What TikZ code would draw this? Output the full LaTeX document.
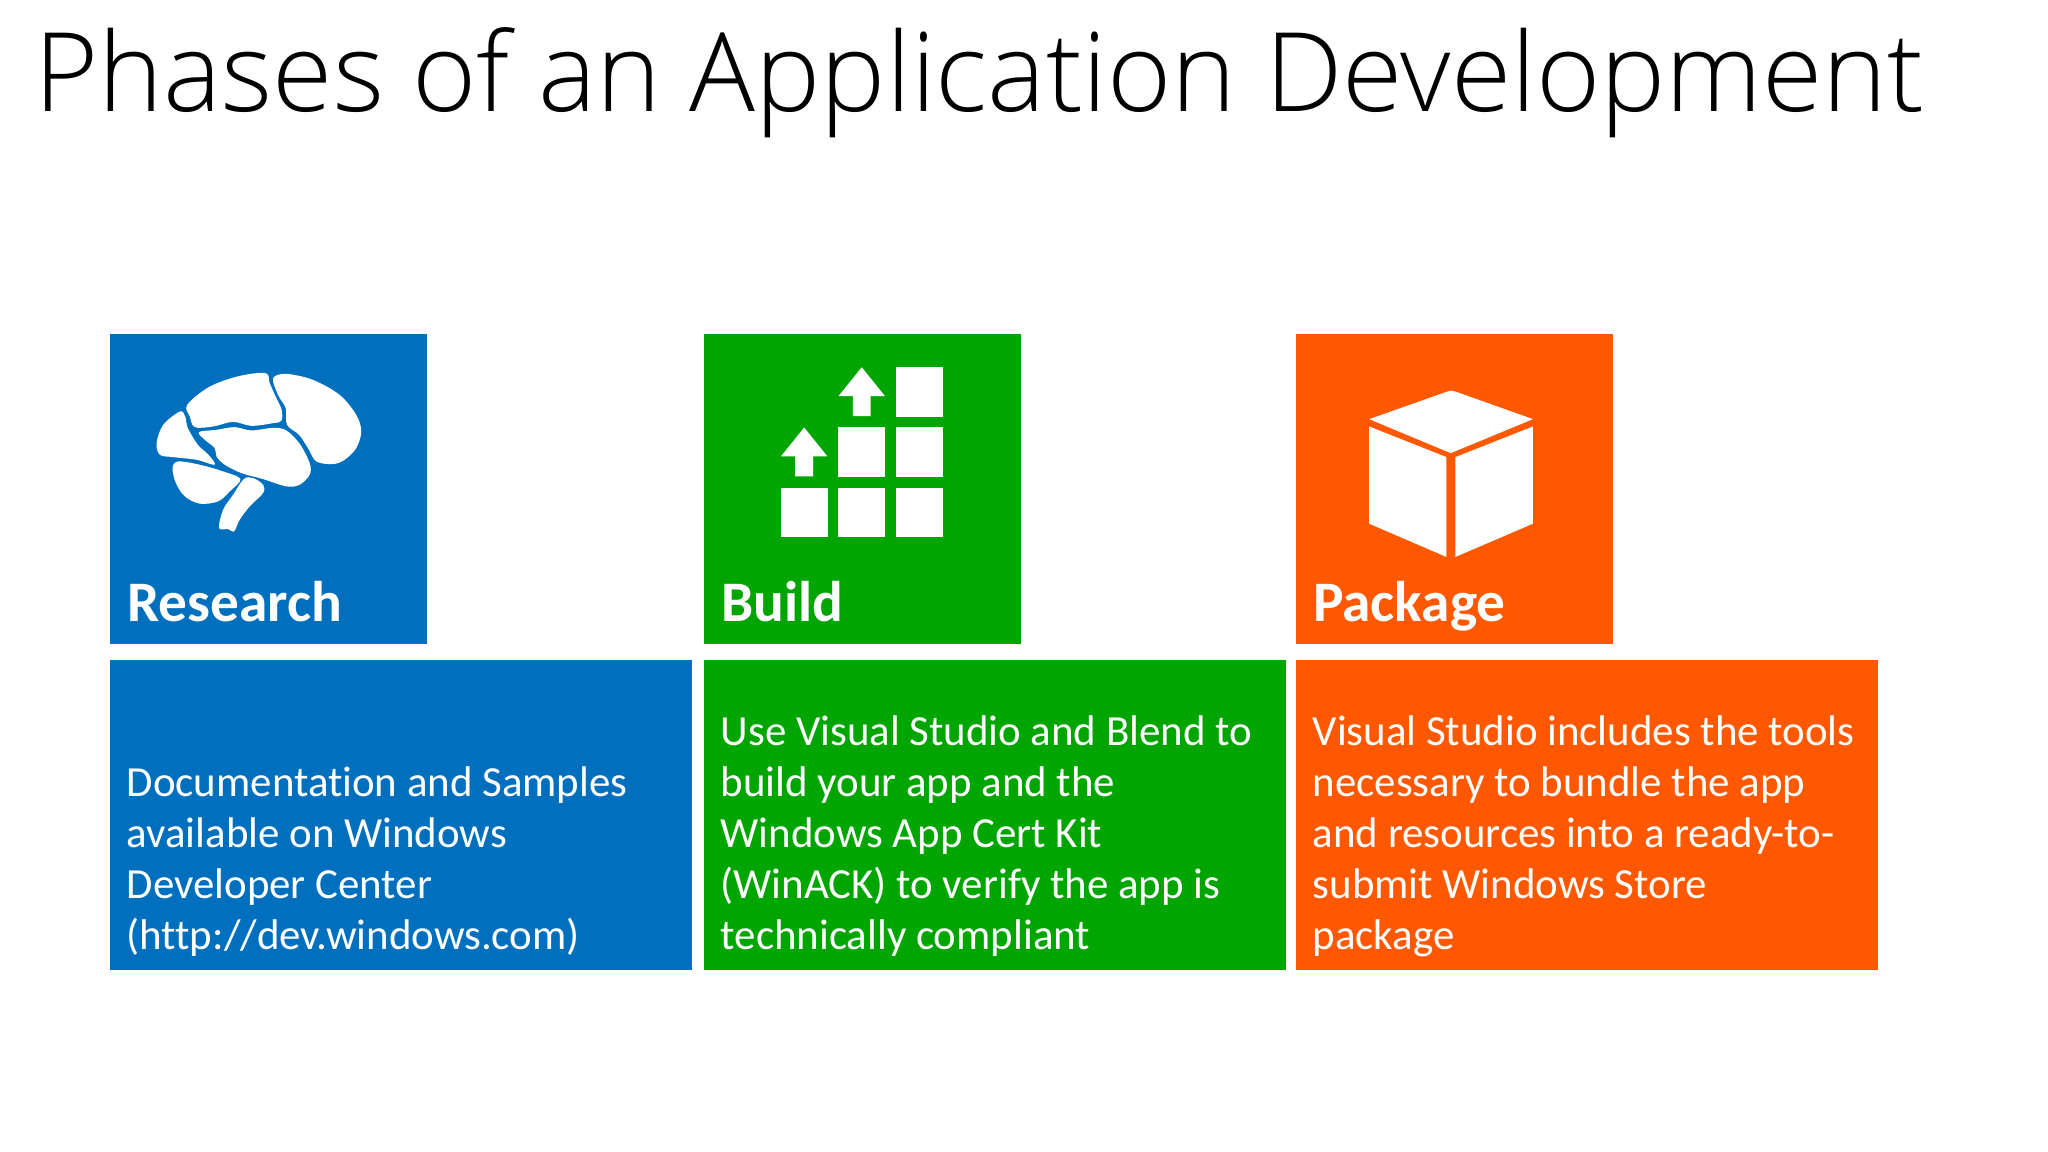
\documentclass[tikz,border=0pt]{standalone}
\usepackage{fontspec}
\setmainfont{Carlito}[Ligatures={NoCommon}]
\newfontfamily\titlefont{Open Sans Light}
\definecolor{researchblue}{HTML}{0070BE}
\definecolor{buildgreen}{HTML}{00A500}
\definecolor{packageorange}{HTML}{FF5800}
\tikzset{
  tile/.style={anchor=north west, inner sep=0pt, minimum width=3.17cm, minimum height=3.10cm},
  wide/.style={anchor=north west, inner sep=0pt, minimum width=5.81cm, minimum height=3.10cm},
  heading/.style={anchor=base west, inner sep=0pt, text=white, font=\fontsize{16.3}{18}\selectfont\bfseries},
  body/.style={anchor=base west, inner sep=0pt, text=white, align=left, font=\fontsize{12.2}{14.5}\selectfont},
  icon/.style={fill=white, draw=none}
}
\begin{document}
\begin{tikzpicture}[x=0.01cm, y=-0.01cm]
        \useasboundingbox (0,0) rectangle (2048,1152);
        \node [anchor=base west, inner sep=0pt, font=\fontsize{31.2}{36}\selectfont\titlefont] (title) at (34,112) {Phases of an Application Development};
        % upper tiles
        \node [tile, fill=researchblue] (research) at (109.5,333) {};
        \node [tile, fill=buildgreen] (build) at (703.5,333) {};
        \node [tile, fill=packageorange] (package) at (1295.5,333) {};
        \node [heading] (researchlabel) at (126.5,621) {Research};
        \node [heading] (buildlabel) at (720.5,621) {Build};
        \node [heading] (packagelabel) at (1312.5,621) {Package};
        % lower tiles
        \node [wide, fill=researchblue] (researchtext) at (109.5,659) {};
        \node [wide, fill=buildgreen] (buildtext) at (703.5,659) {};
        \node [wide, fill=packageorange] (packagetext) at (1295.5,659) {};
        \node [body] (researchbody) at (126,949) {Documentation and Samples\\available on Windows\\Developer Center\\(http://dev.windows.com)};
        \node [body] (buildbody) at (720,949) {Use Visual Studio and Blend to\\build your app and the\\Windows App Cert Kit\\(WinACK) to verify the app is\\technically compliant};
        \node [body] (packagebody) at (1312,949) {Visual Studio includes the tools\\necessary to bundle the app\\and resources into a ready-to-\\submit Windows Store\\package};
        % brain
        \begin{scope}[shift={(100,320)}, x=0.00333cm, y=-0.00333cm]
        \fill [icon] plot [smooth cycle, tension=0.55] coordinates {(262,255) (330,200) (420,168) (498,160) (510,190) (530,235) (546,270) (545,303) (520,310) (455,318) (400,306) (340,320) (285,322) (270,290)};
        \fill [icon] plot [smooth cycle, tension=0.55] coordinates {(520,175) (560,162) (640,180) (720,225) (770,285) (785,335) (770,385) (735,420) (700,433) (650,425) (625,385) (598,345) (562,315) (558,265) (535,225)};
        \fill [icon] plot [smooth cycle, tension=0.55] coordinates {(297,337) (350,330) (405,322) (455,332) (520,324) (560,332) (600,372) (630,430) (630,465) (600,495) (560,500) (490,478) (425,460) (375,435) (350,410) (345,385) (315,360)};
        \fill [icon] plot [smooth cycle, tension=0.55] coordinates {(170,370) (190,315) (240,275) (256,290) (264,325) (294,375) (326,405) (345,435) (290,420) (220,412) (180,405)};
        \fill [icon] plot [smooth cycle, tension=0.55] coordinates {(218,445) (235,425) (300,435) (370,455) (422,478) (390,515) (355,545) (300,552) (255,530) (228,490)};
        \fill [icon] plot [smooth cycle, tension=0.55] coordinates {(432,478) (460,475) (490,495) (490,520) (450,560) (420,600) (403,635) (385,628) (358,625) (370,570) (400,525)};
        \end{scope}
        % blocks and arrows
        \begin{scope}[shift={(700,320)}, x=0.00333cm, y=-0.00333cm]
        \foreach \bx/\by in {243/505, 415/505, 589/505, 415/323, 589/323, 589/142}
          \fill [icon] (\bx,\by) rectangle ++(141,148);
        \foreach \ax/\ay in {313/323, 486/142}
          \fill [icon] (\ax,\ay) -- ++(70,87) -- ++(-43,0) -- ++(0,60) -- ++(-54,0) -- ++(0,-60) -- ++(-43,0) -- cycle;
        \end{scope}
        % box
        \begin{scope}[shift={(1290,320)}, x=0.00333cm, y=-0.00333cm]
        \fill [icon] (238,298) -- (470,216) -- (485,212) -- (500,216) -- (730,298) -- (483,400) -- cycle;
        \fill [icon] (238,320) -- (470,412) -- (470,712) -- (238,612) -- cycle;
        \fill [icon] (497,412) -- (730,320) -- (730,612) -- (497,712) -- cycle;
        \end{scope}
\end{tikzpicture}
\end{document}
